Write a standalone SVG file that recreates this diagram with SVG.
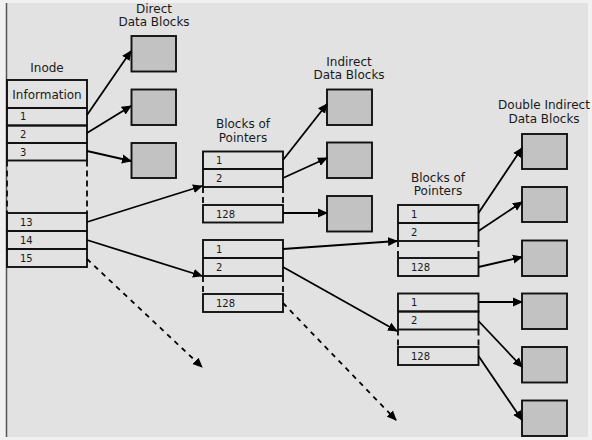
<svg xmlns="http://www.w3.org/2000/svg" width="592" height="440" viewBox="0 0 592 440">
<defs>
<marker id="ah" viewBox="0 0 10 10" refX="9" refY="5" markerWidth="10" markerHeight="10" markerUnits="userSpaceOnUse" orient="auto">
<path d="M0,0.5 L10,5 L0,9.5 z" fill="#000"/>
</marker>
<style>
.lbl{font-family:"DejaVu Sans",sans-serif;font-size:12px;fill:#1a1a1a;text-anchor:middle}
.num{font-family:"DejaVu Sans",sans-serif;font-size:10px;fill:#1a1a1a}
.row{fill:none;stroke:#111;stroke-width:1.9}
.gap{fill:none;stroke:#111;stroke-width:1.9;stroke-dasharray:6,4}
.blk{fill:#c2c2c2;stroke:#111;stroke-width:1.9}
.c{stroke:#000;stroke-width:1.8;fill:none;marker-end:url(#ah)}
.cd{stroke:#000;stroke-width:1.8;fill:none;stroke-dasharray:5,5;marker-end:url(#ah)}
</style>
</defs>
<rect x="0" y="0" width="592" height="440" fill="#f1f1f1"/>
<rect x="6" y="3" width="582" height="434" fill="#e2e2e2"/>
<line x1="6.5" y1="3" x2="6.5" y2="437" stroke="#555" stroke-width="1.5"/>

<g id="inode">
<text class="lbl" x="47" y="72">Inode</text>
<rect class="row" x="7" y="80" width="80" height="28"/>
<text class="lbl" x="47" y="99">Information</text>
<rect class="row" x="7" y="108" width="80" height="17.5"/>
<text class="num" x="20" y="120">1</text>
<rect class="row" x="7" y="125.5" width="80" height="17.5"/>
<text class="num" x="20" y="138">2</text>
<rect class="row" x="7" y="143" width="80" height="17.5"/>
<text class="num" x="20" y="155.5">3</text>
<path class="gap" d="M7,160.5 V213 M87,160.5 V213"/>
<rect class="row" x="7" y="213" width="80" height="18"/>
<text class="num" x="20" y="226">13</text>
<rect class="row" x="7" y="231" width="80" height="18"/>
<text class="num" x="20" y="244">14</text>
<rect class="row" x="7" y="249" width="80" height="18"/>
<text class="num" x="20" y="262">15</text>
</g>

<g id="direct">
<text class="lbl" x="154" y="13">Direct</text>
<text class="lbl" x="154" y="26">Data Blocks</text>
<rect class="blk" x="131.5" y="36" width="44.5" height="35.5"/>
<rect class="blk" x="131.5" y="89.5" width="44.5" height="35.5"/>
<rect class="blk" x="131.5" y="143" width="44.5" height="35"/>
</g>

<g id="bop1">
<text class="lbl" x="243" y="128">Blocks of</text>
<text class="lbl" x="243" y="142">Pointers</text>
<rect class="row" x="203" y="151.5" width="80" height="17.5"/>
<text class="num" x="216" y="164">1</text>
<rect class="row" x="203" y="169" width="80" height="18"/>
<text class="num" x="216" y="182">2</text>
<path class="gap" d="M203,187 V205 M283,187 V205"/>
<rect class="row" x="203" y="205" width="80" height="17.5"/>
<text class="num" x="216" y="217.5">128</text>
</g>

<g id="indirect">
<text class="lbl" x="349" y="66">Indirect</text>
<text class="lbl" x="349" y="79">Data Blocks</text>
<rect class="blk" x="327" y="89.5" width="45" height="35.5"/>
<rect class="blk" x="327" y="142.5" width="45" height="35.5"/>
<rect class="blk" x="327" y="196" width="45" height="35.5"/>
</g>

<g id="bop2">
<rect class="row" x="203" y="240" width="80" height="18"/>
<text class="num" x="216" y="253">1</text>
<rect class="row" x="203" y="258" width="80" height="18"/>
<text class="num" x="216" y="271">2</text>
<path class="gap" d="M203,276 V294 M283,276 V294"/>
<rect class="row" x="203" y="294" width="80" height="18"/>
<text class="num" x="216" y="307">128</text>
</g>

<g id="bop3">
<text class="lbl" x="438" y="182">Blocks of</text>
<text class="lbl" x="438" y="195">Pointers</text>
<rect class="row" x="398" y="205" width="80.5" height="18"/>
<text class="num" x="411" y="218">1</text>
<rect class="row" x="398" y="223" width="80.5" height="18"/>
<text class="num" x="411" y="236">2</text>
<path class="gap" d="M398,241 V258 M478.5,241 V258"/>
<rect class="row" x="398" y="258" width="80.5" height="18"/>
<text class="num" x="411" y="271">128</text>
</g>

<g id="bop4">
<rect class="row" x="398" y="293.5" width="80.5" height="18"/>
<text class="num" x="411" y="306">1</text>
<rect class="row" x="398" y="311.5" width="80.5" height="18"/>
<text class="num" x="411" y="324">2</text>
<path class="gap" d="M398,329.5 V347 M478.5,329.5 V347"/>
<rect class="row" x="398" y="347" width="80.5" height="18"/>
<text class="num" x="411" y="360">128</text>
</g>

<g id="double">
<text class="lbl" x="544" y="109">Double Indirect</text>
<text class="lbl" x="544" y="123">Data Blocks</text>
<rect class="blk" x="522" y="134" width="45" height="35"/>
<rect class="blk" x="522" y="187" width="45" height="35"/>
<rect class="blk" x="522" y="240.5" width="45" height="35.5"/>
<rect class="blk" x="522" y="293.5" width="45" height="35.5"/>
<rect class="blk" x="522" y="347" width="45" height="35.5"/>
<rect class="blk" x="522" y="400.5" width="45" height="35.5"/>
</g>

<g id="connectors">
<line class="c" x1="87" y1="115" x2="131" y2="51"/>
<line class="c" x1="87" y1="133" x2="131" y2="106"/>
<line class="c" x1="87" y1="151" x2="131" y2="161"/>
<line class="c" x1="87" y1="222" x2="202" y2="186"/>
<line class="c" x1="87" y1="240" x2="202" y2="276"/>
<line class="cd" x1="87" y1="259" x2="202" y2="367"/>
<line class="c" x1="283" y1="160" x2="327" y2="104"/>
<line class="c" x1="283" y1="178" x2="327" y2="158"/>
<line class="c" x1="283" y1="213" x2="327" y2="213"/>
<line class="c" x1="283" y1="249" x2="397" y2="241"/>
<line class="c" x1="283" y1="267" x2="397" y2="331"/>
<line class="cd" x1="283" y1="303" x2="396" y2="420"/>
<line class="c" x1="478.5" y1="213" x2="522" y2="148"/>
<line class="c" x1="478.5" y1="231" x2="522" y2="202"/>
<line class="c" x1="478.5" y1="267" x2="522" y2="257"/>
<line class="c" x1="478.5" y1="302" x2="522" y2="302"/>
<line class="c" x1="478.5" y1="321" x2="522" y2="367"/>
<line class="c" x1="478.5" y1="356" x2="522" y2="420"/>
</g>
</svg>
